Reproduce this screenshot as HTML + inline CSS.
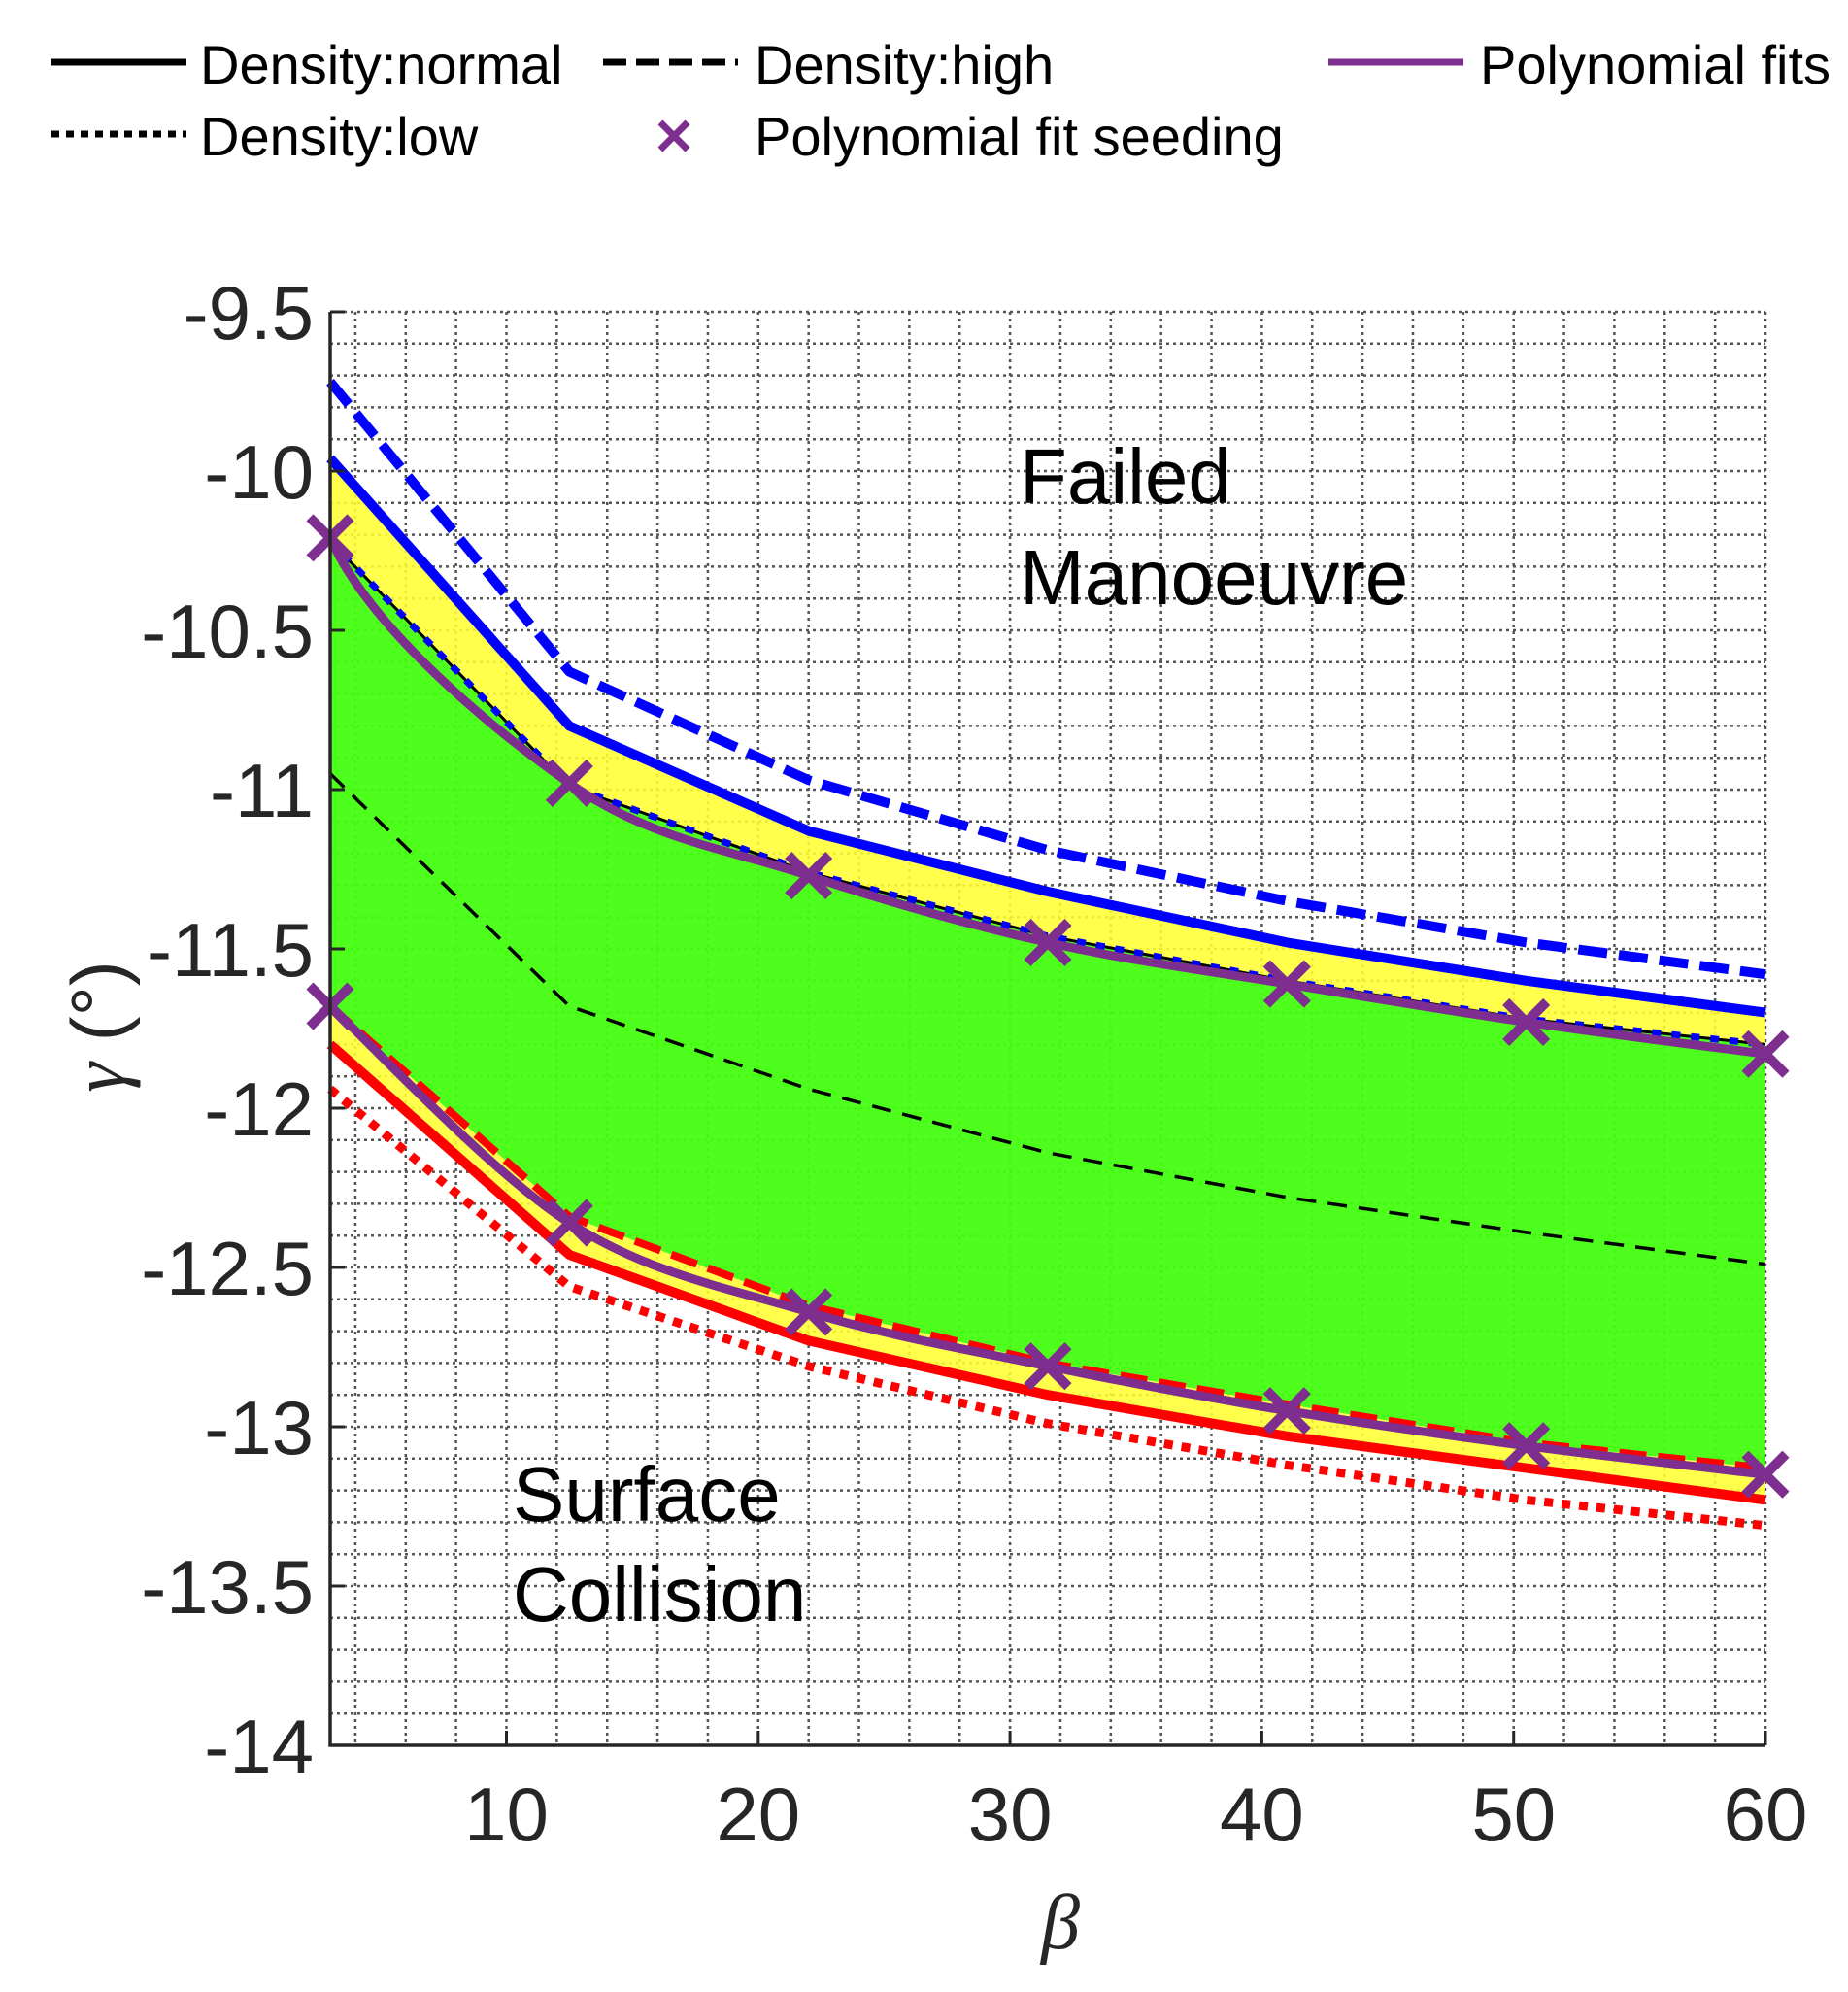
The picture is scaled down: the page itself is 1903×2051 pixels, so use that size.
<!DOCTYPE html>
<html><head><meta charset="utf-8"><style>
html,body{margin:0;padding:0;background:#fff;}
svg{display:block;font-family:"Liberation Sans",Arial,sans-serif;}
</style></head><body>
<svg id="chart" width="1903" height="2051" viewBox="0 0 1903 2051" xmlns="http://www.w3.org/2000/svg">
<g id="legend" font-size="56" fill="#000">
  <g>
    <line x1="53" y1="64" x2="192" y2="64" stroke="#000" stroke-width="7"/>
    <text x="206" y="86">Density:normal</text>
  </g>
  <g>
    <line x1="621" y1="64" x2="760" y2="64" stroke="#000" stroke-width="7" stroke-dasharray="24,10"/>
    <text x="777" y="86">Density:high</text>
  </g>
  <g>
    <line x1="1368" y1="64" x2="1507" y2="64" stroke="#7d2e8e" stroke-width="7"/>
    <text x="1524" y="86">Polynomial fits</text>
  </g>
  <g>
    <line x1="53" y1="138" x2="192" y2="138" stroke="#000" stroke-width="7" stroke-dasharray="8,7"/>
    <text x="206" y="160">Density:low</text>
  </g>
  <g>
    <path d="M680 126 L708 154 M708 126 L680 154" stroke="#7d2e8e" stroke-width="7"/>
    <text x="777" y="160">Polynomial fit seeding</text>
  </g>
</g>
<g id="grid"></g>
<g id="fills"></g>
<g id="series"></g>
<g id="axes"></g>
<text x="1050" y="518" font-size="80" fill="#000">Failed</text>
<text x="1050" y="622" font-size="80" fill="#000">Manoeuvre</text>
<text x="528" y="1566" font-size="80" fill="#000">Surface</text>
<text x="528" y="1669" font-size="80" fill="#000">Collision</text>
<text x="1092" y="2006" font-size="80" font-style="italic" font-family="Liberation Serif, serif" fill="#262626" text-anchor="middle">β</text>
<text transform="translate(128,1057) rotate(-90)" font-size="78" fill="#262626" text-anchor="middle"><tspan font-family="Liberation Serif, serif" font-style="italic">γ</tspan> (°)</text>
</svg>
<script>
const xs = [3, 12.5, 22, 31.5, 41, 50.5, 60];
const blueNormal = [-9.96, -10.80, -11.13, -11.32, -11.48, -11.60, -11.70];
const blueHigh = [-9.72, -10.63, -10.97, -11.19, -11.35, -11.48, -11.58];
const blueLow = [-10.22, -10.99, -11.26, -11.46, -11.60, -11.72, -11.80];
const upperSeeds = [-10.21, -10.98, -11.27, -11.48, -11.61, -11.73, -11.83];
const midDashed = [-10.95, -11.68, -11.94, -12.14, -12.28, -12.39, -12.49];
const redNormal = [-11.80, -12.46, -12.73, -12.90, -13.03, -13.13, -13.23];
const redHigh = [-11.68, -12.34, -12.62, -12.80, -12.93, -13.05, -13.13];
const redLow = [-11.94, -12.56, -12.81, -12.99, -13.12, -13.23, -13.31];
const lowerSeeds = [-11.68, -12.36, -12.64, -12.81, -12.95, -13.06, -13.15];
const xTicks = [10, 20, 30, 40, 50, 60];
const yTicks = [-9.5, -10, -10.5, -11, -11.5, -12, -12.5, -13, -13.5, -14];
const yTickLabels = ["-9.5","-10","-10.5","-11","-11.5","-12","-12.5","-13","-13.5","-14"];

const L=340,R=1818,T=321,B=1797,X0=3,X1=60,Y0=-14,Y1=-9.5;
const sx=v=>L+(v-X0)/(X1-X0)*(R-L);
const sy=v=>B-(v-Y0)/(Y1-Y0)*(B-T);
const NS="http://www.w3.org/2000/svg";
function mk(tag,attrs,parent){const e=document.createElementNS(NS,tag);for(const k in attrs)e.setAttribute(k,attrs[k]);parent.appendChild(e);return e;}
const grid=document.getElementById('grid'),fills=document.getElementById('fills'),series=document.getElementById('series'),axes=document.getElementById('axes');

for(let v=4;v<=60;v+=2){const g=mk('line',{x1:sx(v),x2:sx(v),y1:T,y2:B,stroke:'#555','stroke-width':2.5,'stroke-dasharray':'3,4'},grid);

}
for(let i=1;i<=45;i++){const v=Y0+i*0.1;const g=mk('line',{x1:L,x2:R,y1:sy(v),y2:sy(v),stroke:'#555','stroke-width':2.5,'stroke-dasharray':'3,4'},grid);

}

function pts(arr){return xs.map((x,i)=>[sx(x),sy(arr[i])]);}
function lin(p){return p.map((q,i)=>(i?'L':'M')+q[0].toFixed(1)+' '+q[1].toFixed(1)).join(' ');}
function smooth(p,k0){let d='M'+p[0][0]+' '+p[0][1];for(let i=0;i<p.length-1;i++){const p0=p[i-1]||p[i],p1=p[i],p2=p[i+1],p3=p[i+2]||p2;
const c1=[p1[0]+(p2[0]-p0[0])/6,p1[1]+(p2[1]-p0[1])/6*(i===0?k0:1)],c2=[p2[0]-(p3[0]-p1[0])/6,p2[1]-(p3[1]-p1[1])/6];
d+=` C${c1[0].toFixed(1)} ${c1[1].toFixed(1)} ${c2[0].toFixed(1)} ${c2[1].toFixed(1)} ${p2[0].toFixed(1)} ${p2[1].toFixed(1)}`;}return d;}
function band(a,b){const pa=pts(a),pb=pts(b).reverse();return lin(pa)+' '+pb.map(q=>'L'+q[0].toFixed(1)+' '+q[1].toFixed(1)).join(' ')+' Z';}

let f=mk('path',{d:band(blueNormal,blueLow),fill:'#ffff33','fill-opacity':0.88},fills);


f=mk('path',{d:band(blueLow,redHigh),fill:'#44ff11','fill-opacity':0.95},fills);


f=mk('path',{d:band(redHigh,redNormal),fill:'#ffff33','fill-opacity':0.88},fills);



function line(arr,color,w,dash,name){const e=mk('path',{d:lin(pts(arr)),fill:'none',stroke:color,'stroke-width':w,'stroke-linejoin':'round'},series);
if(dash)e.setAttribute('stroke-dasharray',dash);

}
line(blueLow,'#000',3,null,'black-thin-upper');
line(blueLow,'#0000ff',7,'9,11','blue-low-upper');
line(midDashed,'#000',3.5,'20,12','black-dashed-mid');
line(blueHigh,'#0000ff',10,'30,12','blue-high-upper');
line(blueNormal,'#0000ff',10,null,'blue-normal-upper');
line(redLow,'#ff0000',9,'9,9','red-low-lower');
line(redHigh,'#ff0000',8,'28,12','red-high-lower');
line(redNormal,'#ff0000',10,null,'red-normal-lower');

[upperSeeds,lowerSeeds].forEach((arr,k)=>{
const e=mk('path',{d:smooth(pts(arr),k?1:2.2),fill:'none',stroke:'#7d2e8e','stroke-width':9},series);


pts(arr).forEach(p=>{const m=mk('path',{d:`M${p[0]-21} ${p[1]-21} L${p[0]+21} ${p[1]+21} M${p[0]+21} ${p[1]-21} L${p[0]-21} ${p[1]+21}`,stroke:'#7d2e8e','stroke-width':10},series);

});
});

let a=mk('path',{d:`M${L} ${T} L${L} ${B} L${R} ${B}`,fill:'none',stroke:'#262626','stroke-width':3.5},axes);


xTicks.forEach(v=>{const t=mk('line',{x1:sx(v),x2:sx(v),y1:B,y2:B-15,stroke:'#262626','stroke-width':3},axes);


const l=mk('text',{x:sx(v),y:1895,'font-size':78,fill:'#262626','text-anchor':'middle'},axes);l.textContent=v;

});
yTicks.forEach((v,i)=>{const t=mk('line',{x1:L,x2:L+15,y1:sy(v),y2:sy(v),stroke:'#262626','stroke-width':3},axes);


const l=mk('text',{x:323,y:sy(v)+28,'font-size':78,fill:'#262626','text-anchor':'end'},axes);l.textContent=yTickLabels[i];

});
</script>
</body></html>
